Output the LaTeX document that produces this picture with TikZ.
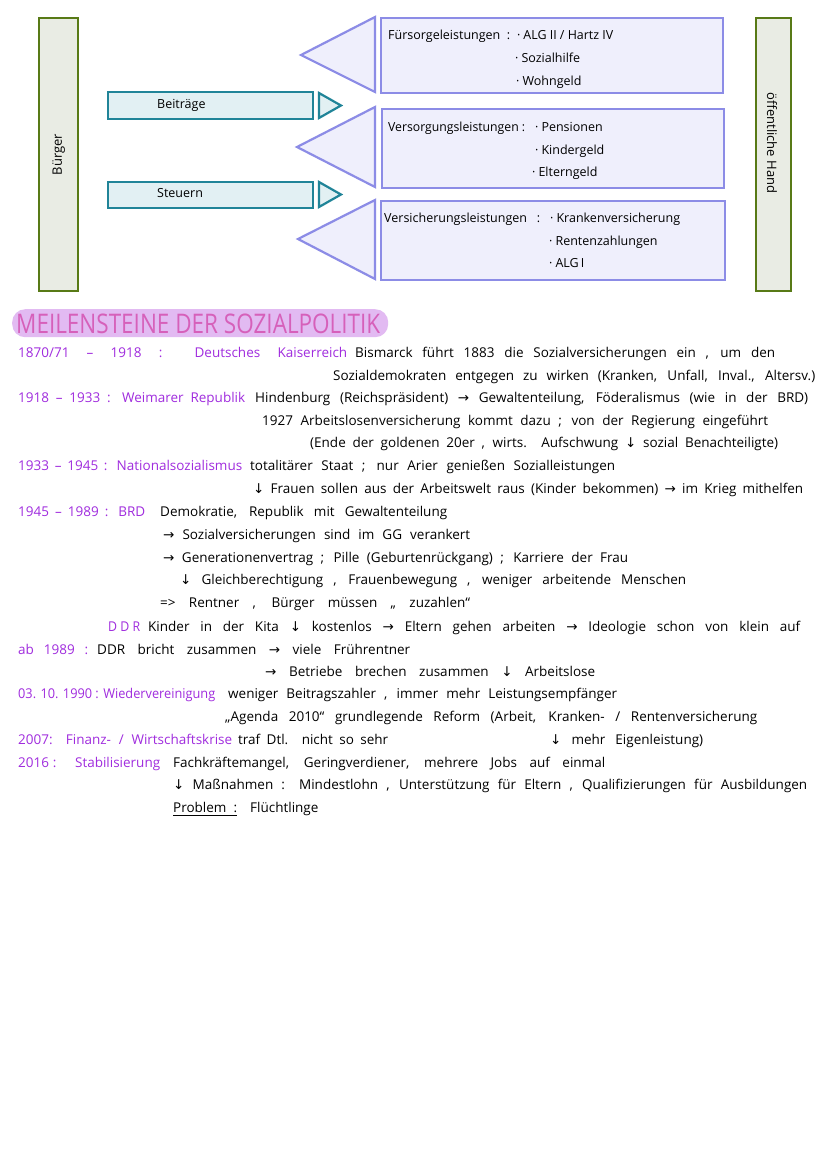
\documentclass[tikz,border=0pt]{standalone}
\usepackage{fontspec}
\usepackage{graphicx}
\usetikzlibrary{calc}
\setmainfont{Open Sans}
\newfontfamily\symf{DejaVu Sans}
\newcommand{\RA}{{\symf →}}
\newcommand{\DA}{{\symf ↓}}
\newcommand{\bul}{·\hspace{3pt}}
\definecolor{labpurple}{RGB}{160,44,222}
\definecolor{titlepink}{RGB}{214,96,186}
\definecolor{titlehl}{RGB}{226,186,242}
\definecolor{gborder}{RGB}{88,122,22}
\definecolor{gfill}{RGB}{233,236,228}
\definecolor{tborder}{RGB}{32,132,152}
\definecolor{tfill}{RGB}{226,240,243}
\definecolor{lborder}{RGB}{140,140,230}
\definecolor{lfill}{RGB}{239,239,252}
\newsavebox\segbox
\newcommand{\fitt}[2]{\sbox\segbox{#2}\ifdim\wd\segbox>#1\relax\resizebox{#1}{\height}{#2}\else\makebox[#1][s]{#2}\fi}
\newcommand{\seg}[6]{\node[#1] (#2) at (#3,#5+4) {\fitt{\dimexpr #4pt-#3pt\relax}{#6}};}
\tikzset{
  txt/.style={anchor=base west, inner sep=0pt, text=black, font=\fontsize{13.5}{15}\selectfont},
  lab/.style={txt, text=labpurple},
  btxt/.style={txt, font=\fontsize{12.5}{14}\selectfont},
  gbox/.style={draw=gborder, fill=gfill, line width=2.4pt, anchor=north west, inner sep=0pt},
  tbox/.style={draw=tborder, fill=tfill, line width=2.2pt, anchor=north west, inner sep=0pt},
  lbox/.style={draw=lborder, fill=lfill, line width=2.2pt, anchor=north west, inner sep=0pt},
  ttri/.style={draw=tborder, fill=tfill, line width=2.2pt, line join=miter},
  ltri/.style={draw=lborder, fill=lfill, line width=2.2pt, line join=miter},
}
\begin{document}
\begin{tikzpicture}[x={(1pt,0)}, y={(0,-1pt)}]
\fill[white] (0,0) rectangle (828,1171);
\useasboundingbox (0,0) rectangle (828,1171);

% side bars
\node[gbox, minimum width=39pt, minimum height=273pt] (buerger) at (38,17) {};
\node[rotate=90, inner sep=0pt, font=\fontsize{13}{15}\selectfont] (buergerT) at (buerger.center) {Bürger};
\node[gbox, minimum width=35pt, minimum height=273pt] (oeff) at (755,17) {};
\node[rotate=-90, inner sep=0pt, font=\fontsize{13}{15}\selectfont] (oeffT) at (772,143) {öffentliche Hand};

% teal bars
\node[tbox, minimum width=205pt, minimum height=27pt] (beitr) at (107,91) {};
\draw[ttri] (319,93) -- (341,105.5) -- (319,118) -- cycle;
\seg{btxt}{beitrT}{157}{207}{104}{Beiträge}
\node[tbox, minimum width=205pt, minimum height=26pt] (steu) at (107,181) {};
\draw[ttri] (319,182) -- (341,194.5) -- (319,207) -- cycle;
\seg{btxt}{steuT}{157}{205}{193}{Steuern}

% lavender arrows and boxes
\draw[ltri] (375,17) -- (301,55) -- (375,92) -- cycle;
\node[lbox, minimum width=342pt, minimum height=75pt] (fuer) at (380,17) {};
\draw[ltri] (375,107) -- (297,147) -- (375,187) -- cycle;
\node[lbox, minimum width=342pt, minimum height=79pt] (vers) at (381,108) {};
\draw[ltri] (375,200) -- (298,239) -- (375,279) -- cycle;
\node[lbox, minimum width=344pt, minimum height=79pt] (vsich) at (380,200) {};

\seg{btxt}{f1}{388}{510}{35}{Fürsorgeleistungen \,:}
\seg{btxt}{f2}{517}{613}{35}{\bul ALG II / Hartz IV}
\seg{btxt}{f3}{515}{584}{58}{\bul Sozialhilfe}
\seg{btxt}{f4}{516}{590}{81}{\bul Wohngeld}
\seg{btxt}{v1}{388}{525}{127}{Versorgungsleistungen :}
\seg{btxt}{v2}{535}{612}{127}{\bul Pensionen}
\seg{btxt}{v3}{535}{618}{150}{\bul Kindergeld}
\seg{btxt}{v4}{532}{607}{172}{\bul Elterngeld}
\seg{btxt}{s1}{384}{540}{218}{Versicherungsleistungen :}
\seg{btxt}{s2}{550}{706}{218}{\bul Krankenversicherung}
\seg{btxt}{s3}{549}{675}{241}{\bul Rentenzahlungen}
\seg{btxt}{s4}{549}{599}{263}{\bul ALG\hspace{2pt}I}

% title
\node[fill=titlehl, rounded corners=13pt, anchor=north west, minimum width=376pt, minimum height=28pt, inner sep=0pt] (titlehl) at (12,309) {};
\node[anchor=base west, inner sep=0pt, text=titlepink, font=\fontsize{27}{30}\selectfont] (title) at (16,333) {\resizebox{364pt}{\height}{MEILENSTEINE DER SOZIALPOLITIK}};

% timeline
\seg{lab}{a1}{18}{347}{353}{1870/71 – 1918 : Deutsches Kaiserreich}
\seg{txt}{a2}{355}{775}{353}{Bismarck führt 1883 die Sozialversicherungen ein , um den}
\seg{txt}{a3}{333}{815}{376}{Sozialdemokraten entgegen zu wirken (Kranken, Unfall, Inval., Altersv.)}
\seg{lab}{b1}{18}{245}{398}{1918 – 1933 : Weimarer Republik}
\seg{txt}{b2}{255}{808}{398}{Hindenburg (Reichspräsident) \RA\ Gewaltenteilung, Föderalismus (wie in der BRD)}
\seg{txt}{b3}{262}{768}{421}{1927 Arbeitslosenversicherung kommt dazu ; von der Regierung eingeführt}
\seg{txt}{b4}{310}{778}{443}{(Ende der goldenen 20er , wirts. Aufschwung \DA\ sozial Benachteiligte)}
\seg{lab}{c1}{18}{242}{466}{1933 – 1945 : Nationalsozialismus}
\seg{txt}{c2}{250}{615}{466}{totalitärer Staat ; nur Arier genießen Sozialleistungen}
\seg{txt}{c3}{253}{803}{489}{\DA\ Frauen sollen aus der Arbeitswelt raus (Kinder bekommen) \RA\ im Krieg mithelfen}
\seg{lab}{d1}{18}{145}{512}{1945 – 1989 : BRD}
\seg{txt}{d2}{160}{447}{512}{Demokratie, Republik mit Gewaltenteilung}
\seg{txt}{d3}{163}{470}{535}{\RA\ Sozialversicherungen sind im GG verankert}
\seg{txt}{d4}{163}{628}{558}{\RA\ Generationenvertrag ; Pille (Geburtenrückgang) ; Karriere der Frau}
\seg{txt}{d5}{180}{686}{580}{\DA\ Gleichberechtigung , Frauenbewegung , weniger arbeitende Menschen}
\seg{txt}{d6}{160}{470}{603}{=> Rentner , Bürger müssen „ zuzahlen“}
\seg{lab}{e1}{108}{140}{627}{D D R}
\seg{txt}{e2}{148}{800}{627}{Kinder in der Kita \DA\ kostenlos \RA\ Eltern gehen arbeiten \RA\ Ideologie schon von klein auf}
\seg{lab}{f1l}{18}{88}{650}{ab 1989 :}
\seg{txt}{f2l}{97}{410}{650}{DDR bricht zusammen \RA\ viele Frührentner}
\seg{txt}{f3l}{265}{595}{672}{\RA\ Betriebe brechen zusammen \DA\ Arbeitslose}
\seg{lab}{g1}{18}{215}{694}{03. 10. 1990 : Wiedervereinigung}
\seg{txt}{g2}{228}{617}{694}{weniger Beitragszahler , immer mehr Leistungsempfänger}
\seg{txt}{g3}{225}{757}{717}{„Agenda 2010“ grundlegende Reform (Arbeit, Kranken- / Rentenversicherung}
\seg{lab}{h1}{18}{232}{740}{2007: Finanz- / Wirtschaftskrise}
\seg{txt}{h2}{238}{388}{740}{traf Dtl. nicht so sehr}
\seg{txt}{h3}{550}{703}{740}{\DA\ mehr Eigenleistung)}
\seg{lab}{i1}{18}{160}{763}{2016 : \quad Stabilisierung}
\seg{txt}{i2}{173}{605}{763}{Fachkräftemangel, Geringverdiener, mehrere Jobs auf einmal}
\seg{txt}{i3}{173}{807}{785}{\DA\ Maßnahmen : Mindestlohn , Unterstützung für Eltern , Qualifizierungen für Ausbildungen}
\seg{txt}{i4}{173}{237}{808}{Problem :}
\seg{txt}{i5}{250}{325}{808}{Flüchtlinge}
\draw[line width=0.9pt] ($(i4.base west)+(0,3)$) -- ($(i4.base east)+(0,3)$);
\end{tikzpicture}
\end{document}
